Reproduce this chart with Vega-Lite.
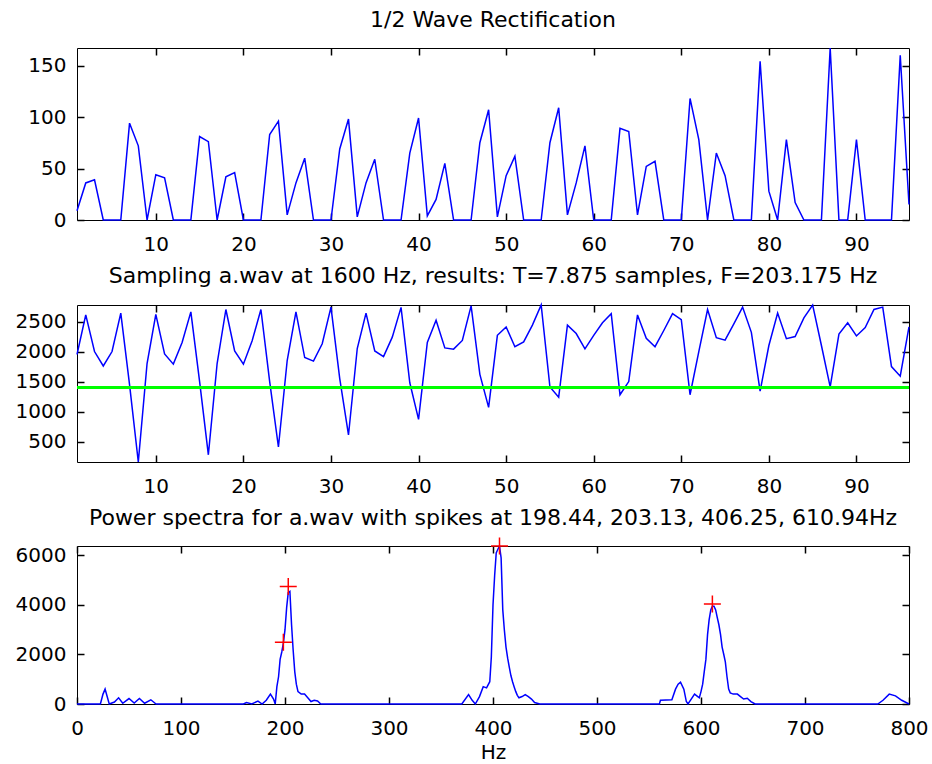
{
  "$schema": "https://vega.github.io/schema/vega-lite/v6.json",
  "background": "white",
  "padding": {"left": 14, "top": 8, "right": 24, "bottom": 2},
  "spacing": 9,
  "datasets": {
    "wave": [
      {"i":1,"rect":9,"samp":1950},{"i":2,"rect":36,"samp":2610},{"i":3,"rect":39,"samp":2000},{"i":4,"rect":0,"samp":1760},{"i":5,"rect":0,"samp":2000},{"i":6,"rect":0,"samp":2640},{"i":7,"rect":94,"samp":1450},{"i":8,"rect":72,"samp":160},
      {"i":9,"rect":0,"samp":1800},{"i":10,"rect":44,"samp":2620},{"i":11,"rect":41,"samp":1960},{"i":12,"rect":0,"samp":1790},{"i":13,"rect":0,"samp":2150},{"i":14,"rect":0,"samp":2660},{"i":15,"rect":81,"samp":1500},{"i":16,"rect":76,"samp":280},
      {"i":17,"rect":0,"samp":1800},{"i":18,"rect":42,"samp":2700},{"i":19,"rect":46,"samp":2010},{"i":20,"rect":0,"samp":1790},{"i":21,"rect":0,"samp":2180},{"i":22,"rect":0,"samp":2700},{"i":23,"rect":83,"samp":1500},{"i":24,"rect":96,"samp":410},
      {"i":25,"rect":5,"samp":1850},{"i":26,"rect":36,"samp":2660},{"i":27,"rect":60,"samp":1900},{"i":28,"rect":0,"samp":1840},{"i":29,"rect":0,"samp":2130},{"i":30,"rect":0,"samp":2740},{"i":31,"rect":69,"samp":1550},{"i":32,"rect":98,"samp":610},
      {"i":33,"rect":3,"samp":2050},{"i":34,"rect":36,"samp":2640},{"i":35,"rect":59,"samp":2010},{"i":36,"rect":0,"samp":1915},{"i":37,"rect":0,"samp":2240},{"i":38,"rect":0,"samp":2736},{"i":39,"rect":65,"samp":1480},{"i":40,"rect":99,"samp":870},
      {"i":41,"rect":4,"samp":2150},{"i":42,"rect":20,"samp":2520},{"i":43,"rect":55,"samp":2060},{"i":44,"rect":0,"samp":2040},{"i":45,"rect":0,"samp":2185},{"i":46,"rect":0,"samp":2760},{"i":47,"rect":75,"samp":1620},{"i":48,"rect":107,"samp":1070},
      {"i":49,"rect":3,"samp":2270},{"i":50,"rect":43,"samp":2410},{"i":51,"rect":62,"samp":2080},{"i":52,"rect":0,"samp":2160},{"i":53,"rect":0,"samp":2440},{"i":54,"rect":0,"samp":2775},{"i":55,"rect":75,"samp":1410},{"i":56,"rect":109,"samp":1240},
      {"i":57,"rect":5,"samp":2440},{"i":58,"rect":36,"samp":2300},{"i":59,"rect":72,"samp":2045},{"i":60,"rect":0,"samp":2270},{"i":61,"rect":0,"samp":2480},{"i":62,"rect":0,"samp":2630},{"i":63,"rect":89,"samp":1280},{"i":64,"rect":86,"samp":1500},
      {"i":65,"rect":5,"samp":2610},{"i":66,"rect":52,"samp":2220},{"i":67,"rect":57,"samp":2080},{"i":68,"rect":0,"samp":2350},{"i":69,"rect":0,"samp":2630},{"i":70,"rect":0,"samp":2530},{"i":71,"rect":118,"samp":1280},{"i":72,"rect":78,"samp":2000},
      {"i":73,"rect":0,"samp":2700},{"i":74,"rect":65,"samp":2230},{"i":75,"rect":43,"samp":2190},{"i":76,"rect":0,"samp":2460},{"i":77,"rect":0,"samp":2740},{"i":78,"rect":0,"samp":2320},{"i":79,"rect":154,"samp":1340},{"i":80,"rect":28,"samp":2100},
      {"i":81,"rect":0,"samp":2640},{"i":82,"rect":78,"samp":2215},{"i":83,"rect":17,"samp":2250},{"i":84,"rect":0,"samp":2560},{"i":85,"rect":0,"samp":2775},{"i":86,"rect":0,"samp":2100},{"i":87,"rect":167,"samp":1410},{"i":88,"rect":0,"samp":2290},
      {"i":89,"rect":0,"samp":2480},{"i":90,"rect":78,"samp":2260},{"i":91,"rect":0,"samp":2400},{"i":92,"rect":0,"samp":2700},{"i":93,"rect":0,"samp":2740},{"i":94,"rect":0,"samp":1750},{"i":95,"rect":160,"samp":1590},{"i":96,"rect":15,"samp":2410}
    ],
    "spec": [
      {"hz":0,"p":0},{"hz":22.5,"p":0},{"hz":25,"p":400},{"hz":27,"p":600},{"hz":29,"p":300},{"hz":31,"p":0},{"hz":36,"p":80},{"hz":40,"p":250},{"hz":44,"p":30},{"hz":50,"p":220},{"hz":55,"p":40},{"hz":60,"p":220},{"hz":65,"p":30},{"hz":71,"p":170},{"hz":76,"p":0},
      {"hz":160,"p":0},{"hz":163,"p":60},{"hz":168,"p":0},{"hz":174,"p":120},{"hz":178,"p":0},{"hz":182,"p":150},{"hz":186,"p":400},{"hz":189,"p":200},{"hz":190.6,"p":0},{"hz":192.2,"p":700},{"hz":193.8,"p":1100},{"hz":195.3,"p":1800},{"hz":196.9,"p":2100},{"hz":198.4,"p":2450},{"hz":200.0,"p":3000},{"hz":201.6,"p":3900},{"hz":203.1,"p":4500},{"hz":204.7,"p":4550},{"hz":206.3,"p":3200},{"hz":207.8,"p":2200},{"hz":209.4,"p":1300},{"hz":210.9,"p":800},{"hz":212.5,"p":500},{"hz":215.6,"p":400},{"hz":218.8,"p":400},{"hz":221.9,"p":250},{"hz":225,"p":100},{"hz":228.1,"p":150},{"hz":231.3,"p":120},{"hz":234.4,"p":0},
      {"hz":370,"p":0},{"hz":376.5,"p":380},{"hz":380,"p":150},{"hz":383,"p":0},{"hz":387,"p":300},{"hz":390.6,"p":700},{"hz":393.8,"p":650},{"hz":396.9,"p":900},{"hz":398.4,"p":1900},{"hz":400,"p":4000},{"hz":401.6,"p":5200},{"hz":403.1,"p":6100},{"hz":404.7,"p":6250},{"hz":406.25,"p":6380},{"hz":407.8,"p":5900},{"hz":409.4,"p":3800},{"hz":410.9,"p":3000},{"hz":412.5,"p":2300},{"hz":414.1,"p":1850},{"hz":415.6,"p":1500},{"hz":417.2,"p":1150},{"hz":418.8,"p":900},{"hz":420.3,"p":700},{"hz":421.9,"p":500},{"hz":423.4,"p":350},{"hz":425,"p":250},{"hz":428,"p":300},{"hz":431,"p":380},{"hz":434,"p":300},{"hz":437,"p":200},{"hz":440,"p":60},{"hz":445,"p":0},
      {"hz":560,"p":0},{"hz":561,"p":150},{"hz":572,"p":170},{"hz":575.5,"p":600},{"hz":578,"p":800},{"hz":580.3,"p":880},{"hz":583.5,"p":600},{"hz":585.9,"p":100},{"hz":587.5,"p":0},{"hz":590.6,"p":200},{"hz":593.8,"p":400},{"hz":596.9,"p":300},{"hz":598.4,"p":250},{"hz":600,"p":500},{"hz":601.6,"p":800},{"hz":603.1,"p":1300},{"hz":604.7,"p":1800},{"hz":606.3,"p":2800},{"hz":607.8,"p":3400},{"hz":609.4,"p":3800},{"hz":610.9,"p":3950},{"hz":612.5,"p":3950},{"hz":614.1,"p":3800},{"hz":615.6,"p":3500},{"hz":617.2,"p":3200},{"hz":618.8,"p":2800},{"hz":620.3,"p":2300},{"hz":621.9,"p":2000},{"hz":623.4,"p":1700},{"hz":625,"p":1100},{"hz":626.6,"p":600},{"hz":628.1,"p":450},{"hz":631,"p":400},{"hz":635,"p":400},{"hz":638,"p":300},{"hz":641,"p":200},{"hz":644.5,"p":230},{"hz":648,"p":100},{"hz":652,"p":0},
      {"hz":770,"p":0},{"hz":775,"p":150},{"hz":781,"p":400},{"hz":787,"p":330},{"hz":793,"p":150},{"hz":800,"p":0}
    ],
    "spikes": [
      {"hz":198.44,"p":2490},{"hz":203.13,"p":4740},{"hz":406.25,"p":6380},{"hz":610.94,"p":4040}
    ]
  },
  "vconcat": [
    {
      "width": 832, "height": 172,
      "title": {"text": "1/2 Wave Rectification", "offset": 13},
      "data": {"name": "wave"},
      "layer": [
        {
          "mark": {"type": "line", "color": "#0000ff", "strokeWidth": 1.5},
          "encoding": {
            "x": {"field": "i", "type": "quantitative", "scale": {"domain": [1, 96], "nice": false, "zero": false},
                  "axis": {"orient": "bottom", "values": [10,20,30,40,50,60,70,80,90], "title": null, "format": "d"}},
            "y": {"field": "rect", "type": "quantitative", "scale": {"domain": [0, 167], "nice": false},
                  "axis": {"orient": "left", "values": [0,50,100,150], "title": null, "format": "d"}}
          }
        },
        {
          "mark": {"type": "line", "opacity": 0},
          "encoding": {
            "x": {"field": "i", "type": "quantitative", "axis": {"orient": "top", "values": [10,20,30,40,50,60,70,80,90], "labels": false, "title": null}},
            "y": {"field": "rect", "type": "quantitative", "axis": {"orient": "right", "values": [0,50,100,150], "labels": false, "title": null}}
          }
        }
      ],
      "resolve": {"axis": {"x": "independent", "y": "independent"}}
    },
    {
      "width": 832, "height": 157,
      "title": {"text": "Sampling a.wav at 1600 Hz, results: T=7.875 samples, F=203.175 Hz", "offset": 14},
      "data": {"name": "wave"},
      "layer": [
        {
          "mark": {"type": "line", "color": "#0000ff", "strokeWidth": 1.5},
          "encoding": {
            "x": {"field": "i", "type": "quantitative", "scale": {"domain": [1, 96], "nice": false, "zero": false},
                  "axis": {"orient": "bottom", "values": [10,20,30,40,50,60,70,80,90], "title": null, "format": "d"}},
            "y": {"field": "samp", "type": "quantitative", "scale": {"domain": [160, 2775], "nice": false, "zero": false},
                  "axis": {"orient": "left", "values": [500,1000,1500,2000,2500], "title": null, "format": "d"}}
          }
        },
        {
          "mark": {"type": "rule", "color": "#00ff00", "strokeWidth": 2},
          "encoding": {"y": {"datum": 1400, "axis": null}}
        },
        {
          "mark": {"type": "line", "opacity": 0},
          "encoding": {
            "x": {"field": "i", "type": "quantitative", "axis": {"orient": "top", "values": [10,20,30,40,50,60,70,80,90], "labels": false, "title": null}},
            "y": {"field": "samp", "type": "quantitative", "axis": {"orient": "right", "values": [500,1000,1500,2000,2500], "labels": false, "title": null}}
          }
        }
      ],
      "resolve": {"axis": {"x": "independent", "y": "independent"}}
    },
    {
      "width": 832, "height": 158,
      "title": {"text": "Power spectra for a.wav with spikes at 198.44, 203.13, 406.25, 610.94Hz", "offset": 5},
      "layer": [
        {
          "data": {"name": "spec"},
          "mark": {"type": "line", "color": "#0000ff", "strokeWidth": 1.5},
          "encoding": {
            "x": {"field": "hz", "type": "quantitative", "scale": {"domain": [0, 800], "nice": false},
                  "axis": {"orient": "bottom", "values": [0,100,200,300,400,500,600,700,800], "title": "Hz", "format": "d", "labelFlush": false}},
            "y": {"field": "p", "type": "quantitative", "scale": {"domain": [0, 6380], "nice": false},
                  "axis": {"orient": "left", "values": [0,2000,4000,6000], "title": null, "format": "d"}}
          }
        },
        {
          "data": {"name": "spikes"},
          "mark": {"type": "point", "shape": "M-1,0L1,0M0,-1L0,1", "size": 289, "stroke": "#ff0000", "strokeWidth": 1.5, "filled": false, "opacity": 1, "clip": false},
          "encoding": {
            "x": {"field": "hz", "type": "quantitative", "axis": null},
            "y": {"field": "p", "type": "quantitative", "axis": null}
          }
        },
        {
          "data": {"name": "spec"},
          "mark": {"type": "line", "opacity": 0},
          "encoding": {
            "x": {"field": "hz", "type": "quantitative", "axis": {"orient": "top", "values": [0,100,200,300,400,500,600,700,800], "labels": false, "title": null}},
            "y": {"field": "p", "type": "quantitative", "axis": {"orient": "right", "values": [0,2000,4000,6000], "labels": false, "title": null}}
          }
        }
      ],
      "resolve": {"axis": {"x": "independent", "y": "independent"}}
    }
  ],
  "config": {
    "view": {"stroke": "black", "strokeWidth": 1},
    "axis": {"domain": false, "grid": false, "ticks": true, "tickSize": 7, "tickWidth": 1.5, "tickColor": "#000000", "tickOpacity": 1, "zindex": 2, "offset": -7, "labelFlush": false, "labelColor": "black", "labelFont": "DejaVu Sans", "labelFontSize": 20, "labelPadding": 11, "titleFont": "DejaVu Sans", "titleFontSize": 20, "titleFontWeight": "normal", "titleColor": "black", "titlePadding": 4},
    "axisBottom": {"labelPadding": 14},
    "title": {"font": "DejaVu Sans", "fontSize": 22, "fontWeight": "normal", "color": "black"}
  }
}
